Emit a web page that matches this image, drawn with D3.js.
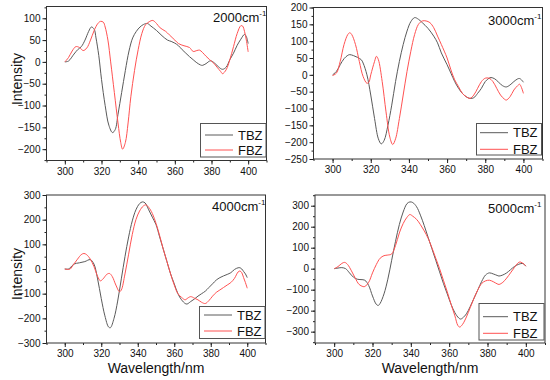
<!DOCTYPE html>
<html><head><meta charset="utf-8">
<script src="https://cdn.jsdelivr.net/npm/d3@7"></script>
<style>body{margin:0;background:#fff}svg{display:block;font-family:"Liberation Sans",Arial,sans-serif}</style>
</head><body><svg id="c" width="550" height="380"></svg>
<script>
// ---- data: [wavelength (nm), intensity] ----
const xTicks = [300, 320, 340, 360, 380, 400];
const labels = ["2000", "3000", "4000", "5000"];
const seriesNames = ["TBZ", "FBZ"];

const tbz2000 = [[300,0],[302,2],[305,18],[307,28],[309,35],[311,50],[313,70],[314.5,80],[316,75],[317,55],[318.5,15],[320,-40],[322,-100],[324,-145],[326,-162],[327.5,-155],[329,-120],[331,-70],[333,-20],[335,25],[337,55],[339,70],[341,80],[343,86],[345,88],[347,82],[350,72],[353,60],[356,50],[358,47],[360,43],[362,37],[364,28],[366,20],[368,12],[370,5],[372,-2],[374,-7],[375,-8],[377,-4],[379,2],[380,2],[382,-4],[384,-12],[386,-17],[388,-12],[390,5],[392,20],[394,38],[396,52],[398,63],[399,58],[400,42]];
const fbz2000 = [[300,0],[302,10],[304,25],[306,35],[308,33],[310,26],[312,32],[314,50],[316,72],[318,88],[319.5,93],[321,91],[322,80],[323.5,50],[325,0],[327,-70],[329,-140],[330.5,-185],[331.5,-200],[333,-185],[334.5,-140],[336,-80],[338,-20],[340,28],[342,65],[344,85],[346,92],[348,95],[350,88],[352,78],[355,70],[357,62],[360,50],[362,42],[365,37],[368,33],[370,24],[372,26],[373.5,27],[375,22],[377,13],[379,5],[381,-2],[383,-12],[385,-22],[386,-27],[388,-18],[390,5],[392,35],[394,65],[396,83],[397,82],[398,70],[399,50],[400,23]];

const tbz3000 = [[300,0],[302,10],[304,30],[306,48],[308,58],[309,60],[311,57],[313,52],[315,45],[316,35],[318,0],[320,-60],[322,-130],[324,-190],[325.5,-205],[327,-195],[329,-150],[331,-90],[333,-20],[335,40],[337,90],[339,130],[341,158],[343,170],[345,165],[347,155],[350,138],[353,115],[355,95],[357,65],[360,30],[362,5],[364,-20],[366,-40],[368,-55],[370,-65],[372,-70],[374,-68],[376,-55],[378,-40],[380,-20],[382,-10],[383,-8],[385,-12],[387,-22],[389,-32],[391,-36],[393,-30],[395,-20],[397,-12],[398,-11],[399,-15],[400,-22]];
const fbz3000 = [[300,-2],[302,5],[304,40],[306,90],[308,120],[309,125],[310,120],[312,90],[314,40],[316,-5],[318,-25],[319,-22],[320,0],[322,40],[323,55],[324,45],[326,-20],[328,-110],[330,-185],[331.5,-207],[333,-190],[335,-130],[337,-60],[339,10],[341,70],[343,120],[345,150],[347,160],[349,160],[351,155],[353,140],[355,115],[357,90],[360,50],[362,15],[364,-15],[366,-35],[368,-55],[370,-65],[372,-70],[374,-60],[376,-40],[378,-20],[380,-10],[382,-10],[384,-20],[386,-40],[388,-60],[390,-72],[391,-75],[393,-65],[395,-45],[397,-32],[398,-28],[399,-38],[400,-55]];

const tbz4000 = [[300,0],[302,0],[303,5],[305,20],[308,25],[311,30],[314,38],[316,20],[318,-40],[320,-120],[322,-190],[324,-235],[325,-238],[327,-200],[329,-130],[331,-40],[333,50],[335,130],[337,195],[339,240],[341,265],[342.5,272],[344,268],[346,240],[348,210],[350,180],[352,130],[354,80],[356,30],[358,-20],[360,-60],[362,-100],[364,-125],[366,-140],[367,-142],[369,-132],[371,-122],[373,-110],[375,-100],[377,-90],[379,-75],[381,-60],[383,-45],[385,-35],[387,-28],[389,-22],[391,-15],[393,-2],[395,5],[396,5],[397,0],[398,-10],[399,-20],[400,-35]];
const fbz4000 = [[300,0],[302,-2],[303,0],[305,20],[307,40],[309,58],[310.5,63],[312,58],[314,40],[316,10],[318,-30],[319.5,-48],[321,-40],[323,-22],[324.5,-18],[326,-30],[328,-65],[330,-92],[331,-85],[333,-20],[335,60],[337,140],[339,200],[341,235],[343,255],[344.5,260],[346,250],[348,225],[350,185],[352,135],[354,80],[356,30],[358,-20],[360,-65],[362,-100],[364,-115],[366,-125],[367,-120],[369,-112],[371,-118],[373,-125],[375,-135],[377,-140],[379,-128],[381,-110],[383,-95],[385,-85],[387,-75],[389,-65],[391,-55],[393,-38],[395,-12],[396,-8],[397,-15],[398,-35],[399,-55],[400,-78]];

const tbz5000 = [[300,0],[302,3],[304,5],[306,0],[308,-20],[310,-40],[312,-50],[314,-52],[316,-55],[318,-80],[320,-130],[322,-170],[323,-175],[324,-165],[326,-120],[328,-50],[330,40],[332,130],[334,210],[336,270],[338,310],[339.5,318],[341,315],[343,295],[345,255],[347,205],[349,150],[351,95],[353,40],[355,-15],[357,-70],[359,-120],[361,-170],[363,-210],[365,-235],[366,-240],[367,-235],[369,-215],[371,-180],[373,-140],[375,-100],[377,-60],[379,-30],[381,-20],[383,-25],[385,-32],[386,-35],[388,-30],[390,-20],[392,-5],[394,10],[396,20],[398,25],[399,22],[400,12]];
const fbz5000 = [[300,0],[302,10],[304,25],[305.5,30],[307,20],[309,-10],[311,-45],[313,-75],[315,-85],[316,-85],[318,-65],[320,-20],[322,20],[324,50],[326,62],[328,65],[330,70],[332,110],[334,170],[336,215],[338,245],[339.5,258],[341,250],[343,235],[345,210],[347,180],[349,145],[351,100],[353,50],[355,0],[357,-55],[359,-110],[361,-170],[363,-225],[364.5,-270],[365.5,-278],[367,-265],[369,-230],[371,-185],[373,-140],[375,-100],[377,-70],[379,-58],[381,-55],[383,-62],[385,-72],[386,-75],[388,-65],[390,-45],[392,-20],[394,5],[396,28],[397,32],[398,28],[399,22],[400,12]];

const yTicks2000 = [-200,-150,-100,-50,0,50,100];
const yTicks3000 = [-250,-200,-150,-100,-50,0,50,100,150,200];
const yTicks4000 = [-300,-200,-100,0,100,200,300];
const yTicks5000 = [-300,-200,-100,0,100,200,300];

// ---- layout ----
const panels = [
  {lab:labels[0], t:tbz2000, f:fbz2000, ticks:yTicks2000, ydom:[-226,127], L:46.5, R:266.5, T:6.5, B:160.5, ylab:true, xlab:false, ylabY:79,
   leg:{x0:200.5,x1:266,y0:123.5,y1:157,r1:135,r2:150,lx0:205,lx1:233,tx:238}, ann:{x:213,y:21.5}},
  {lab:labels[1], t:tbz3000, f:fbz3000, ticks:yTicks3000, ydom:[-250,200], L:313.5, R:542.5, T:7.5, B:159, ylab:false, xlab:false,
   leg:{x0:476.5,x1:541.5,y0:123.5,y1:155,r1:132.7,r2:149.3,lx0:480,lx1:508,tx:513}, ann:{x:488,y:24.5}},
  {lab:labels[2], t:tbz4000, f:fbz4000, ticks:yTicks4000, ydom:[-300,300], L:46.5, R:265.5, T:195, B:343, ylab:true, xlab:true, ylabY:274,
   leg:{x0:199.5,x1:265,y0:306.5,y1:338.5,r1:315,r2:331,lx0:204,lx1:232,tx:237}, ann:{x:212,y:210.5}},
  {lab:labels[3], t:tbz5000, f:fbz5000, ticks:yTicks5000, ydom:[-354,351], L:315, R:545, T:195, B:343, ylab:false, xlab:true,
   leg:{x0:479,x1:544,y0:303.5,y1:340,r1:316.7,r2:333.3,lx0:483,lx1:508,tx:513}, ann:{x:488,y:212.5}}
];

const svg = d3.select("#c");
svg.append("rect").attr("width",550).attr("height",380).attr("fill","#fff");
const colT = "#5a5a5a", colF = "#ff5252";

panels.forEach(p => {
  const x = d3.scaleLinear().domain([290,410]).range([p.L,p.R]);
  const y = d3.scaleLinear().domain(p.ydom).range([p.B,p.T]);
  const g = svg.append("g");
  const step = p.ticks[1]-p.ticks[0];
  const minorY = [];
  for (let v = p.ticks[0]-step/2; v <= p.ydom[1]; v += step/2) if (v>=p.ydom[0]) minorY.push(v);
  const minorX = d3.range(290, 411, 10);

  g.append("g").attr("transform",`translate(${p.L},0)`)
    .call(d3.axisLeft(y).tickValues(minorY).tickSize(2).tickFormat(""))
    .call(a=>a.select(".domain").remove());
  g.append("g").attr("transform",`translate(0,${p.B})`)
    .call(d3.axisBottom(x).tickValues(minorX).tickSize(2).tickFormat(""))
    .call(a=>a.select(".domain").remove());
  const ya = g.append("g").attr("transform",`translate(${p.L},0)`)
    .call(d3.axisLeft(y).tickValues(p.ticks).tickSize(4).tickPadding(2));
  const xa = g.append("g").attr("transform",`translate(0,${p.B})`)
    .call(d3.axisBottom(x).tickValues(xTicks).tickSize(4).tickPadding(3));
  [ya,xa].forEach(a=>{a.select(".domain").remove();
    a.selectAll("text").attr("font-size",10).attr("fill","#111").attr("font-family","Liberation Sans, Arial, sans-serif");});
  g.selectAll(".tick line").attr("stroke","#222");

  const line = d3.line().x(d=>x(d[0])).y(d=>y(d[1])).curve(d3.curveCatmullRom.alpha(0.5));
  g.append("path").datum(p.t).attr("d",line).attr("fill","none").attr("stroke",colT).attr("stroke-width",1);
  g.append("path").datum(p.f).attr("d",line).attr("fill","none").attr("stroke",colF).attr("stroke-width",1);

  g.append("rect").attr("x",p.L).attr("y",p.T).attr("width",p.R-p.L).attr("height",p.B-p.T)
    .attr("fill","none").attr("stroke","#333").attr("stroke-width",1);

  const lg = p.leg;
  g.append("rect").attr("x",lg.x0).attr("y",lg.y0).attr("width",lg.x1-lg.x0).attr("height",lg.y1-lg.y0)
    .attr("fill","#fff").attr("stroke","#555").attr("stroke-width",1);
  [[seriesNames[0],colT,lg.r1],[seriesNames[1],colF,lg.r2]].forEach(([n,c,ry])=>{
    g.append("line").attr("x1",lg.lx0).attr("x2",lg.lx1).attr("y1",ry).attr("y2",ry).attr("stroke",c).attr("stroke-width",1);
    g.append("text").attr("x",lg.tx).attr("y",ry).attr("dy","0.36em").attr("font-size",13).attr("fill","#111").text(n);
  });

  const an = g.append("text").attr("x",p.ann.x).attr("y",p.ann.y).attr("font-size",13).attr("fill","#111");
  an.append("tspan").text(p.lab+"cm");
  an.append("tspan").attr("font-size",8).attr("dy",-6).text("-1");

  if (p.ylab) g.append("text").attr("transform",`translate(22,${p.ylabY}) rotate(-90)`)
    .attr("text-anchor","middle").attr("font-size",14).attr("fill","#111").text("Intensity");
  if (p.xlab) g.append("text").attr("x",(p.L+p.R)/2).attr("y",373)
    .attr("text-anchor","middle").attr("font-size",14).attr("fill","#111").text("Wavelength/nm");
});
</script></body></html>
